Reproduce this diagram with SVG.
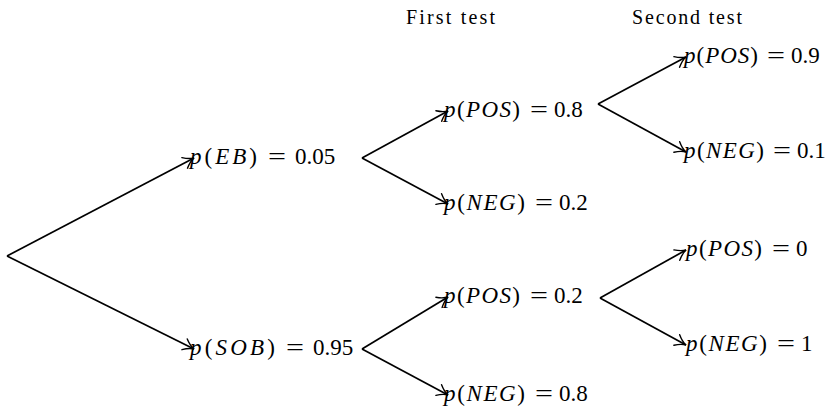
<svg xmlns="http://www.w3.org/2000/svg" width="829" height="407" viewBox="0 0 829 407">
<defs>
<marker id="arr" viewBox="-12 -7 14 14" refX="0" refY="0" markerWidth="14" markerHeight="14" markerUnits="userSpaceOnUse" orient="auto">
<path d="M-10.5,-6 Q-5,-1.2 0,0 Q-5,1.2 -10.5,6" fill="none" stroke="#000" stroke-width="1.4" stroke-linecap="round"/>
</marker>
<style>
.e{fill:none;stroke:#000;stroke-width:1.7}
.a{marker-end:url(#arr)}
text{font-family:"Liberation Serif","DejaVu Serif",serif;fill:#000}
.l{font-size:23px}
.h{font-size:20px}
.i{font-style:italic}
</style>
</defs>
<g id="connectors">
<path class="e a" d="M7,256 L194,158"/>
<path class="e a" d="M7,256 L194,349"/>
<path class="e a" d="M362,158 L448,111"/>
<path class="e a" d="M362,158 L448,204"/>
<path class="e a" d="M362,349 L448,297"/>
<path class="e a" d="M362,349 L448,395"/>
<path class="e a" d="M598,104 L686,57"/>
<path class="e a" d="M598,104 L686,152"/>
<path class="e a" d="M600,298 L686,250"/>
<path class="e a" d="M600,298 L686,345"/>
</g>
<g id="header-first"><text class="h" x="406" y="24" textLength="89" lengthAdjust="spacing">First test</text></g>
<g id="header-second"><text class="h" x="632" y="24" textLength="110" lengthAdjust="spacing">Second test</text></g>
<g id="n-eb"><text class="l" y="164"><tspan x="190" textLength="67" lengthAdjust="spacing"><tspan class="i">p</tspan>(<tspan class="i">EB</tspan>)</tspan><tspan x="268" textLength="18" lengthAdjust="spacingAndGlyphs">=</tspan><tspan x="295">0.05</tspan></text></g>
<g id="n-sob"><text class="l" y="355"><tspan x="190" textLength="85" lengthAdjust="spacing"><tspan class="i">p</tspan>(<tspan class="i">SOB</tspan>)</tspan><tspan x="286" textLength="18" lengthAdjust="spacingAndGlyphs">=</tspan><tspan x="313">0.95</tspan></text></g>
<g id="n-eb-pos"><text class="l" y="117"><tspan x="444" textLength="76" lengthAdjust="spacing"><tspan class="i">p</tspan>(<tspan class="i">POS</tspan>)</tspan><tspan x="530" textLength="18" lengthAdjust="spacingAndGlyphs">=</tspan><tspan x="554">0.8</tspan></text></g>
<g id="n-eb-neg"><text class="l" y="210"><tspan x="444" textLength="81" lengthAdjust="spacing"><tspan class="i">p</tspan>(<tspan class="i">NEG</tspan>)</tspan><tspan x="535" textLength="18" lengthAdjust="spacingAndGlyphs">=</tspan><tspan x="559">0.2</tspan></text></g>
<g id="n-sob-pos"><text class="l" y="303"><tspan x="444" textLength="76" lengthAdjust="spacing"><tspan class="i">p</tspan>(<tspan class="i">POS</tspan>)</tspan><tspan x="530" textLength="18" lengthAdjust="spacingAndGlyphs">=</tspan><tspan x="554">0.2</tspan></text></g>
<g id="n-sob-neg"><text class="l" y="401"><tspan x="444" textLength="81" lengthAdjust="spacing"><tspan class="i">p</tspan>(<tspan class="i">NEG</tspan>)</tspan><tspan x="535" textLength="18" lengthAdjust="spacingAndGlyphs">=</tspan><tspan x="559">0.8</tspan></text></g>
<g id="n-pp"><text class="l" y="63"><tspan x="684" textLength="74" lengthAdjust="spacing"><tspan class="i">p</tspan>(<tspan class="i">POS</tspan>)</tspan><tspan x="767" textLength="18" lengthAdjust="spacingAndGlyphs">=</tspan><tspan x="791">0.9</tspan></text></g>
<g id="n-pn"><text class="l" y="158"><tspan x="684" textLength="80" lengthAdjust="spacing"><tspan class="i">p</tspan>(<tspan class="i">NEG</tspan>)</tspan><tspan x="773" textLength="18" lengthAdjust="spacingAndGlyphs">=</tspan><tspan x="797">0.1</tspan></text></g>
<g id="n-sp"><text class="l" y="256"><tspan x="686" textLength="76" lengthAdjust="spacing"><tspan class="i">p</tspan>(<tspan class="i">POS</tspan>)</tspan><tspan x="772" textLength="18" lengthAdjust="spacingAndGlyphs">=</tspan><tspan x="796">0</tspan></text></g>
<g id="n-sn"><text class="l" y="351"><tspan x="686" textLength="81" lengthAdjust="spacing"><tspan class="i">p</tspan>(<tspan class="i">NEG</tspan>)</tspan><tspan x="777" textLength="18" lengthAdjust="spacingAndGlyphs">=</tspan><tspan x="801">1</tspan></text></g>
</svg>
